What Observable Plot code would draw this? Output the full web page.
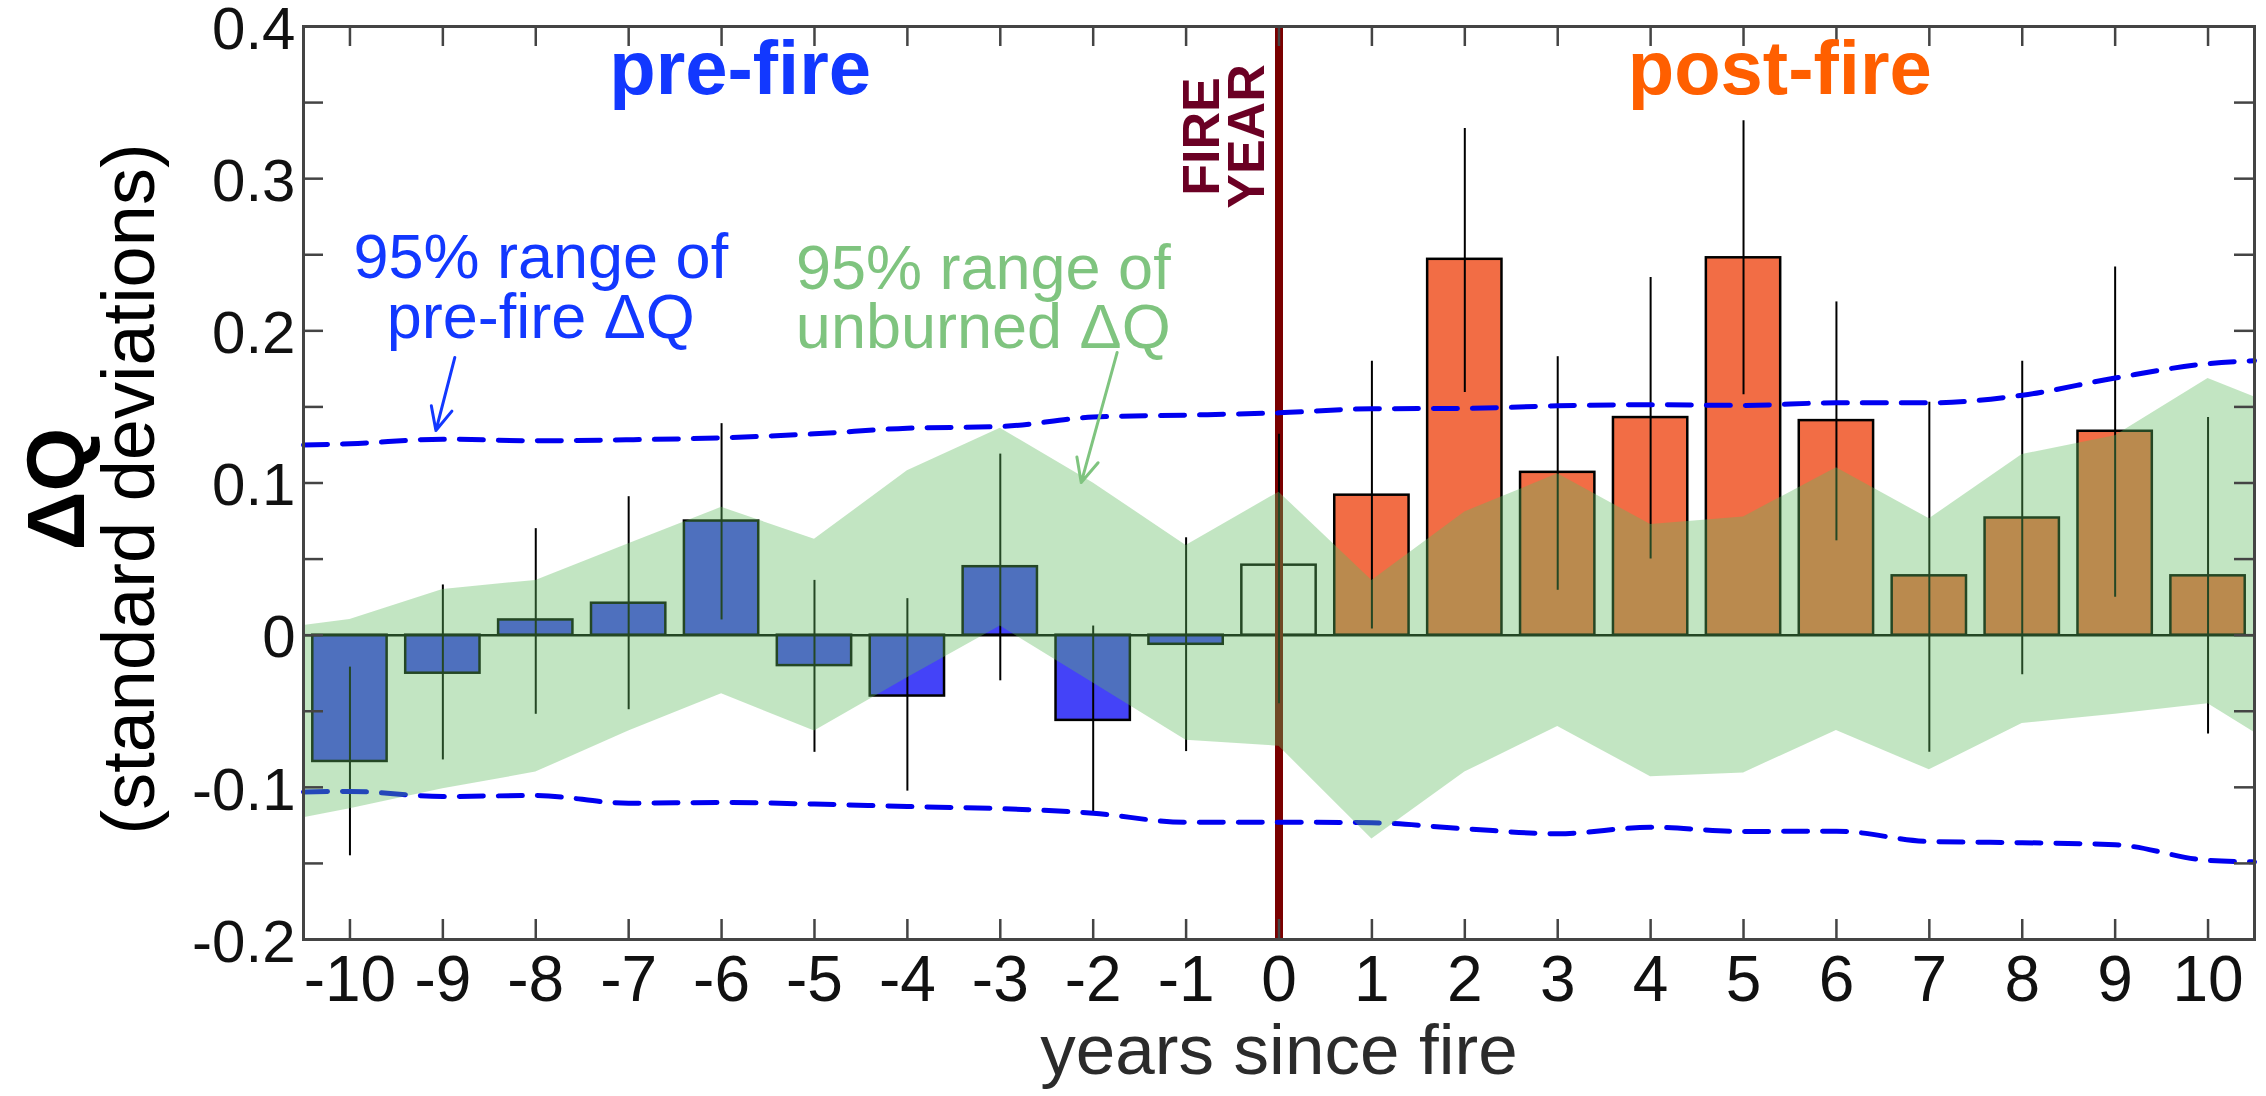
<!DOCTYPE html>
<html><head><meta charset="utf-8">
<script src="https://cdn.jsdelivr.net/npm/d3@7"></script>
<script src="https://cdn.jsdelivr.net/npm/@observablehq/plot@0.6"></script>
<style>html,body{margin:0;padding:0;background:#fff;overflow:hidden}</style>
</head><body><div id="chart"></div>
<script>
// ---- data ----
const years = [-10,-9,-8,-7,-6,-5,-4,-3,-2,-1,0,1,2,3,4,5,6,7,8,9,10];
const dq      = [-0.083,-0.025,0.010,0.021,0.075,-0.020,-0.040,0.045,-0.056,-0.006,0.046,0.092,0.247,0.107,0.143,0.248,0.141,0.039,0.077,0.134,0.039];
const errLow  = [-0.145,-0.082,-0.052,-0.049,0.010,-0.077,-0.1025,-0.030,-0.118,-0.0765,-0.045,0.004,0.1595,0.0295,0.050,0.158,0.062,-0.077,-0.026,0.025,-0.065];
const errHigh = [-0.021,0.033,0.070,0.091,0.139,0.036,0.024,0.119,0.006,0.064,0.132,0.180,0.333,0.183,0.235,0.338,0.219,0.153,0.180,0.242,0.143];

const bandYears = [-10.5,-10,-9,-8,-7,-6,-5,-4,-3,-2,-1,0,1,2,3,4,5,6,7,8,9,10,10.5];
const unburnedLow  = [-0.120,-0.114,-0.101,-0.090,-0.063,-0.0385,-0.063,-0.028,0.006,-0.0315,-0.069,-0.073,-0.134,-0.090,-0.060,-0.093,-0.0905,-0.0626,-0.0885,-0.058,-0.052,-0.045,-0.064];
const unburnedHigh = [0.0064,0.0103,0.030,0.036,0.060,0.084,0.063,0.108,0.136,0.100,0.059,0.094,0.036,0.081,0.106,0.0727,0.0777,0.110,0.0765,0.1187,0.131,0.1686,0.1565];
const preFireLow   = [-0.103,-0.1027,-0.106,-0.1054,-0.1104,-0.110,-0.111,-0.1126,-0.114,-0.117,-0.123,-0.1229,-0.1233,-0.1272,-0.1305,-0.1262,-0.129,-0.1288,-0.1356,-0.1364,-0.1377,-0.148,-0.149];
const preFireHigh  = [0.125,0.1258,0.1288,0.1277,0.1284,0.1297,0.1323,0.136,0.1371,0.1433,0.1446,0.1461,0.1488,0.149,0.1507,0.1515,0.151,0.1527,0.1527,0.1577,0.169,0.1784,0.1804];

const xTicks = years;
const yTicks = [-0.2,-0.1,0,0.1,0.2,0.3,0.4];
const yMinorTicks = [-0.2,-0.15,-0.1,-0.05,0,0.05,0.1,0.15,0.2,0.25,0.3,0.35,0.4];

const periodLabels = ["pre-fire","post-fire"];
const periodLabelX = [-5.8, 5.39];
const periodLabelY = [0.3559, 0.3559];
const periodColors = ["#1238ff","#ff5f00"];

const notes = ["95% range of\npre-fire ΔQ","95% range of\nunburned ΔQ"];
const noteX = [-7.946,-3.183];
const noteY = [0.1950,0.1884];
const noteColors = ["#1238ff","#7fc47f"];

const arrowX1 = [-8.871,-1.742], arrowY1 = [0.1825,0.1858];
const arrowX2 = [-9.075,-2.129], arrowY2 = [0.1345,0.1003];
const arrowColors = ["#1238ff","#7fc47f"];

const fireText = ["FIRE","YEAR"];
const fireTextX = [-0.645,-0.161];
const fireTextY = [0.3277,0.3277];

// ---- tables ----
const bars = years.map((y,i)=>({year:y, value:dq[i], lo:errLow[i], hi:errHigh[i]}));
const band = bandYears.map((x,i)=>({x, lo:unburnedLow[i], hi:unburnedHigh[i], plo:preFireLow[i], phi:preFireHigh[i]}));
const idx = (arr)=>arr.map((_,i)=>i);

const FONT = "'Liberation Sans', Arial, Helvetica, sans-serif";
const AX = "#444";

const chart = Plot.plot({
  width: 2266, height: 1096,
  marginLeft: 303, marginRight: 12, marginTop: 26, marginBottom: 157,
  x: {domain: [-10.5, 10.5]},
  y: {domain: [-0.2, 0.4]},
  style: {fontFamily: FONT, background: "white", overflow: "visible"},
  marks: [
    // bars
    Plot.rect(bars.filter(d=>d.year<0), {x1: d=>d.year-0.4, x2: d=>d.year+0.4, y1: 0, y2: "value", fill: "#4443f8", stroke: "black", strokeWidth: 2.5}),
    Plot.rect(bars.filter(d=>d.year===0), {x1: d=>d.year-0.4, x2: d=>d.year+0.4, y1: 0, y2: "value", fill: "none", stroke: "black", strokeWidth: 2.5}),
    Plot.rect(bars.filter(d=>d.year>0), {x1: d=>d.year-0.4, x2: d=>d.year+0.4, y1: 0, y2: "value", fill: "#f26d45", stroke: "black", strokeWidth: 2.5}),
    Plot.ruleY([0], {stroke: "black", strokeWidth: 2.5}),
    // fire year line
    Plot.ruleX([0], {stroke: "#7a0000", strokeWidth: 8}),
    // error bars
    Plot.ruleX(bars, {x: "year", y1: "lo", y2: "hi", stroke: "black", strokeWidth: 2}),
    // pre-fire 95% range (dashed)
    Plot.line(band, {x: "x", y: "phi", stroke: "#0000f0", strokeWidth: 5, strokeDasharray: "24,15", curve: "monotone-x"}),
    Plot.line(band, {x: "x", y: "plo", stroke: "#0000f0", strokeWidth: 5, strokeDasharray: "24,15", curve: "monotone-x"}),
    // unburned 95% range band
    Plot.areaY(band, {x: "x", y1: "lo", y2: "hi", fill: "rgb(95,187,95)", fillOpacity: 0.38}),
    // frame and inward ticks
    Plot.frame({stroke: AX, strokeWidth: 3}),
    Plot.tickX(xTicks, {x: d=>d, stroke: AX, strokeWidth: 2.5, insetBottom: 893}),
    Plot.tickX(xTicks, {x: d=>d, stroke: AX, strokeWidth: 2.5, insetTop: 893}),
    Plot.tickY(yMinorTicks, {y: d=>d, stroke: AX, strokeWidth: 2.5, insetRight: 1931}),
    Plot.tickY(yMinorTicks, {y: d=>d, stroke: AX, strokeWidth: 2.5, insetLeft: 1931}),
    // axes labels
    Plot.axisX({ticks: xTicks, tickSize: 0, tickPadding: 16, fontSize: 64, tickFormat: d=>String(d), label: null, fill: "#111"}),
    Plot.axisY({ticks: yTicks, tickSize: 0, tickPadding: 8, fontSize: 60, tickFormat: d=>String(d), label: null, fill: "#111", dy: 3}),
    Plot.text(["years since fire"], {text: d=>d, frameAnchor: "bottom", dy: 134, lineAnchor: "bottom", fontSize: 71, fill: "#2b2b2b"}),
    Plot.text(["ΔQ"], {text: d=>d, frameAnchor: "left", dx: -220, dy: 6, rotate: -90, textAnchor: "middle", lineAnchor: "bottom", fontSize: 82, fontWeight: "bold", fill: "black"}),
    Plot.text(["(standard deviations)"], {text: d=>d, frameAnchor: "left", dx: -150, dy: 6, rotate: -90, textAnchor: "middle", lineAnchor: "bottom", fontSize: 74, fill: "black"}),
    // annotations
    Plot.text(periodLabels, {x: (d,i)=>periodLabelX[i], y: (d,i)=>periodLabelY[i], text: d=>d, fill: (d,i)=>periodColors[i], lineAnchor: "bottom", fontSize: 76, fontWeight: "bold"}),
    Plot.text(notes, {x: (d,i)=>noteX[i], y: (d,i)=>noteY[i], text: d=>d, fill: (d,i)=>noteColors[i], lineAnchor: "bottom", lineHeight: 0.952, fontSize: 63}),
    Plot.arrow(idx(arrowX1), {x1: i=>arrowX1[i], y1: i=>arrowY1[i], x2: i=>arrowX2[i], y2: i=>arrowY2[i], stroke: i=>arrowColors[i], strokeWidth: 3, headLength: 13, headAngle: 50}),
    Plot.text(fireText, {x: (d,i)=>fireTextX[i], y: (d,i)=>fireTextY[i], text: d=>d, rotate: -90, textAnchor: "middle", lineAnchor: "bottom", fontSize: 52, fontWeight: "bold", fill: "#6b0024"})
  ]
});
document.getElementById("chart").appendChild(chart);
</script>
</body></html>
